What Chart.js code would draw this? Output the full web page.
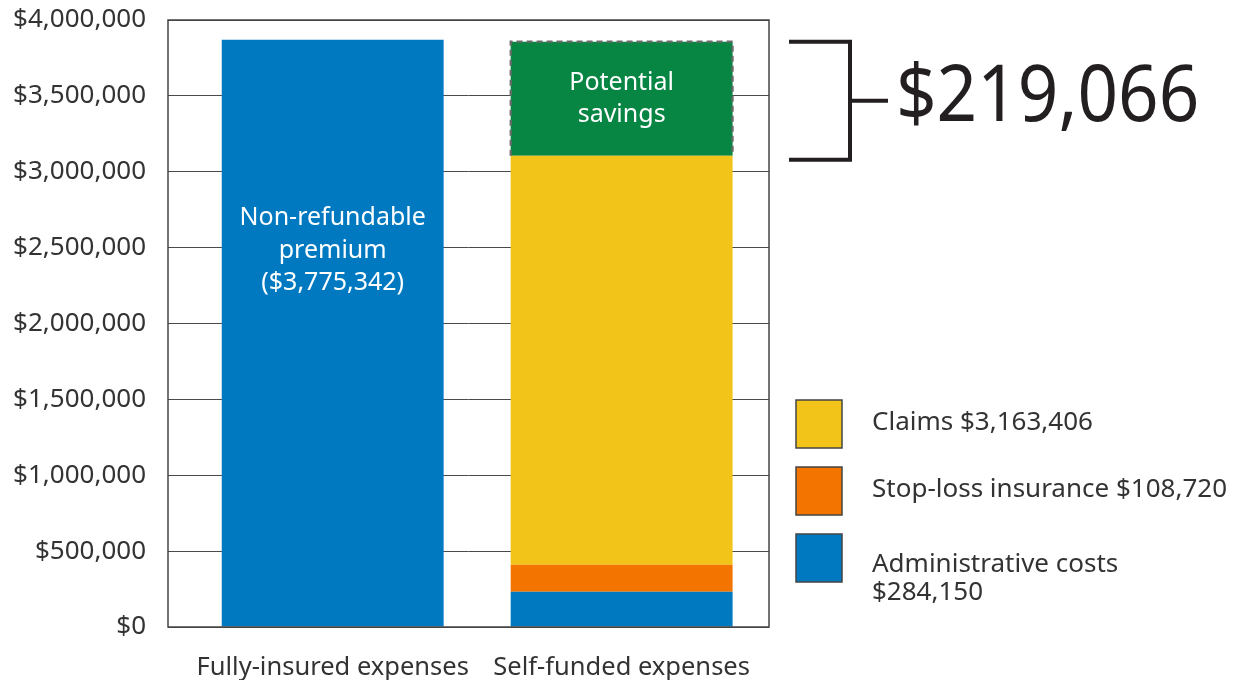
<!DOCTYPE html>
<html>
<head>
<meta charset="utf-8">
<script src="https://cdn.jsdelivr.net/npm/chart.js@4"></script>
<style>
  html, body { margin: 0; padding: 0; background: #fff; }
  #wrap { width: 1234px; height: 680px; position: relative; }
</style>
</head>
<body>
<div id="wrap"><canvas id="chart" width="1234" height="680"></canvas></div>
<script>
// values (bar heights as drawn)
const categories = ['Fully-insured expenses', 'Self-funded expenses'];
const premiumValues = [3870000, null];
const adminValues = [null, 232000];
const stopLossValues = [null, 178000];
const claimsValues = [null, 2695000];
const savingsValues = [null, 752000];
const yTickValues = [0, 500000, 1000000, 1500000, 2000000, 2500000, 3000000, 3500000, 4000000];

const premiumText = ['Non-refundable', 'premium', '($3,775,342)'];
const savingsText = ['Potential', 'savings'];
const savingsTotal = '$219,066';
const legendItems = [
    { label: ['Claims $3,163,406'], color: '#f2c318' },
    { label: ['Stop-loss insurance $108,720'], color: '#f37500' },
    { label: ['Administrative costs', '$284,150'], color: '#0079c1' }
];

const FONT = '"Noto Sans", sans-serif';
const TEXT = '#333333';

const toPoints = arr => arr.map((v, i) => v === null ? null : { x: i + 1, y: v }).filter(p => p);

const barDefaults = { borderWidth: 0, barPercentage: 0.768, categoryPercentage: 1 };

const extras = {
    id: 'extras',
    afterDatasetsDraw(chart) {
        const ctx = chart.ctx;
        const area = chart.chartArea;

        // text inside the premium bar
        const prem = chart.getDatasetMeta(0).data[0];
        ctx.save();
        ctx.fillStyle = '#fff';
        ctx.font = '25px ' + FONT;
        ctx.textAlign = 'center';
        ctx.textBaseline = 'middle';
        premiumText.forEach((t, i) => ctx.fillText(t, prem.x, 218 + i * 32.5));

        // potential savings box: text + dashed outline
        const sav = chart.getDatasetMeta(4).data[0];
        savingsText.forEach((t, i) => ctx.fillText(t, sav.x, sav.y + 41 + i * 32));
        ctx.strokeStyle = '#6a6a6a';
        ctx.lineWidth = 2.2;
        ctx.setLineDash([6, 4]);
        const half = sav.width / 2;
        ctx.beginPath();
        ctx.moveTo(sav.x - half, sav.base);
        ctx.lineTo(sav.x - half, sav.y);
        ctx.lineTo(sav.x + half, sav.y);
        ctx.lineTo(sav.x + half, sav.base);
        ctx.stroke();
        ctx.setLineDash([]);

        // plot frame
        ctx.strokeStyle = '#444';
        ctx.lineWidth = 1.5;
        ctx.strokeRect(area.left, area.top, area.right - area.left, area.bottom - area.top);

        // bracket and total
        const bx0 = area.right + 20, bx1 = area.right + 81;
        const top = sav.y, bottom = sav.base + 4, mid = (top + bottom) / 2;
        ctx.strokeStyle = '#231f20';
        ctx.lineWidth = 4;
        ctx.beginPath();
        ctx.moveTo(bx0, top);
        ctx.lineTo(bx1, top);
        ctx.lineTo(bx1, bottom);
        ctx.lineTo(bx0, bottom);
        ctx.moveTo(bx1, mid);
        ctx.lineTo(bx1 + 38, mid);
        ctx.stroke();
        ctx.fillStyle = '#231f20';
        ctx.font = '78px ' + FONT;
        ctx.textAlign = 'left';
        ctx.textBaseline = 'alphabetic';
        ctx.save();
        ctx.translate(bx1 + 46, mid + 20);
        ctx.scale(0.91, 1);
        ctx.fillText(savingsTotal, 0, 0);
        ctx.restore();

        // legend
        ctx.font = '26px ' + FONT;
        ctx.textBaseline = 'middle';
        legendItems.forEach((item, i) => {
            const y = 400 + i * 67;
            ctx.fillStyle = item.color;
            ctx.fillRect(796, y, 46, 48);
            ctx.strokeStyle = '#444';
            ctx.lineWidth = 1.5;
            ctx.strokeRect(796, y, 46, 48);
            ctx.fillStyle = TEXT;
            const n = item.label.length;
            item.label.forEach((t, j) => {
                const ty = n === 1 ? y + 23 : y + 31 + j * 28;
                ctx.fillText(t, 872, ty);
            });
        });
        ctx.restore();
    }
};

new Chart(document.getElementById('chart'), {
    type: 'bar',
    data: {
        datasets: [
            { label: 'Non-refundable premium', data: toPoints(premiumValues), backgroundColor: '#0079c1', ...barDefaults },
            { label: 'Administrative costs', data: toPoints(adminValues), backgroundColor: '#0079c1', ...barDefaults },
            { label: 'Stop-loss insurance', data: toPoints(stopLossValues), backgroundColor: '#f37500', ...barDefaults },
            { label: 'Claims', data: toPoints(claimsValues), backgroundColor: '#f2c318', ...barDefaults },
            { label: 'Potential savings', data: toPoints(savingsValues), backgroundColor: '#068543', ...barDefaults }
        ]
    },
    options: {
        responsive: false,
        animation: false,
        layout: { padding: { top: 20, right: 465, left: 0, bottom: 0 } },
        plugins: { legend: { display: false }, tooltip: { enabled: false } },
        scales: {
            x: {
                type: 'linear',
                stacked: true,
                offset: false,
                min: 0.43,
                max: 2.51,
                grid: { display: false },
                border: { display: false },
                afterBuildTicks: s => { s.ticks = categories.map((c, i) => ({ value: i + 1 })); },
                afterFit: s => { s.height = 53; s.paddingLeft = 0; s.paddingRight = 0; },
                ticks: {
                    autoSkip: false,
                    maxRotation: 0,
                    padding: 17,
                    color: TEXT,
                    font: { family: FONT, size: 25.5 },
                    callback: v => categories[v - 1]
                }
            },
            y: {
                stacked: true,
                min: 0,
                max: 4000000,
                grid: { color: '#4a4a4a', lineWidth: 1, drawTicks: false },
                border: { display: false },
                afterBuildTicks: s => { s.ticks = yTickValues.map(v => ({ value: v })); },
                afterFit: s => { s.width = 168; s.paddingTop = 0; s.paddingBottom = 0; },
                ticks: {
                    padding: 22,
                    color: TEXT,
                    font: { family: FONT, size: 26 },
                    callback: v => '$' + v.toLocaleString('en-US')
                }
            }
        }
    },
    plugins: [extras]
});
</script>
</body>
</html>
